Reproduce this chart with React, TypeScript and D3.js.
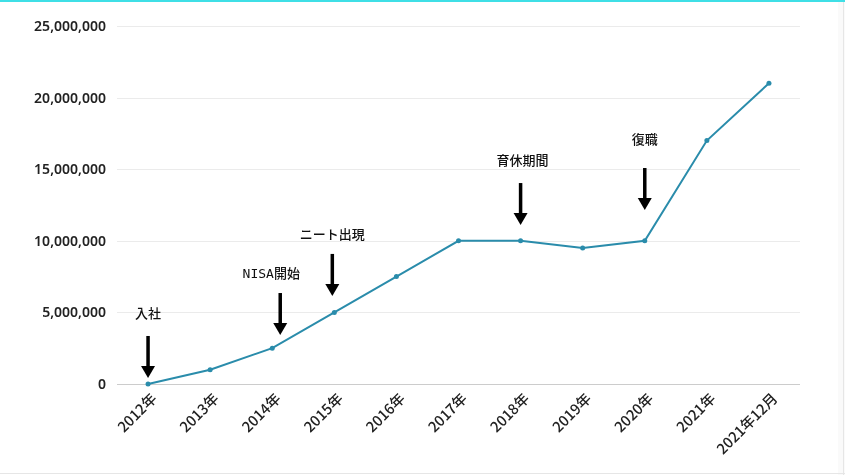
import { useEffect, useRef } from "react";
import * as d3 from "d3";

// カテゴリ・値
const categories = [
  "2012年",
  "2013年",
  "2014年",
  "2015年",
  "2016年",
  "2017年",
  "2018年",
  "2019年",
  "2020年",
  "2021年",
  "2021年12月",
];
const values = [
  0, 1000000, 2500000, 5000000, 7500000, 10000000, 10000000, 9500000,
  10000000, 17000000, 21000000,
];
const yTicks = [0, 5000000, 10000000, 15000000, 20000000, 25000000];

// 注釈 (矢印の先端の値)
const noteLabels = ["入社", "NISA開始", "ニート出現", "育休期間", "復職"];
const noteCategories = ["2012年", "2014年", "2015年", "2018年", "2020年"];
const noteTips = [420000, 3420000, 6150000, 11100000, 12150000];

export default function App() {
  const svgRef = useRef<SVGSVGElement>(null);

  useEffect(() => {
    if (!svgRef.current) return;
    const W = 845;
    const H = 475;
    const margin = { top: 26, right: 45, bottom: 91, left: 117 };
    const svg = d3.select(svgRef.current);
    svg.selectAll("*").remove();

    // 枠
    svg
      .append("rect")
      .attr("x", 838)
      .attr("y", 0)
      .attr("width", 7)
      .attr("height", H)
      .attr("fill", "#fafafa");
    svg
      .append("line")
      .attr("x1", 843.5)
      .attr("x2", 843.5)
      .attr("y1", 0)
      .attr("y2", H)
      .attr("stroke", "#e6e6e6");
    svg
      .append("line")
      .attr("x1", 0)
      .attr("x2", W)
      .attr("y1", 473.5)
      .attr("y2", 473.5)
      .attr("stroke", "#e6e6e6");
    svg
      .append("rect")
      .attr("x", 0)
      .attr("y", 0)
      .attr("width", W)
      .attr("height", 2)
      .attr("fill", "#3fdfe6");

    const x = d3
      .scaleBand()
      .domain(categories)
      .range([margin.left, W - margin.right]);
    const cx = (c: string) => (x(c) ?? 0) + x.bandwidth() / 2;
    const y = d3
      .scaleLinear()
      .domain([0, 25000000])
      .range([H - margin.bottom, margin.top]);

    const g = svg.append("g");

    // グリッド
    g.selectAll("line.grid")
      .data(yTicks)
      .enter()
      .append("line")
      .attr("class", "grid")
      .attr("x1", margin.left)
      .attr("x2", W - margin.right)
      .attr("y1", (d) => Math.round(y(d)) + 0.5)
      .attr("y2", (d) => Math.round(y(d)) + 0.5)
      .attr("stroke", (d) => (d === 0 ? "#cccccc" : "#ebebeb"))
      .attr("stroke-width", 1);

    // y軸ラベル
    g.selectAll("text.ytick")
      .data(yTicks)
      .enter()
      .append("text")
      .attr("class", "ytick")
      .attr("x", margin.left - 11)
      .attr("y", (d) => y(d))
      .attr("dy", "0.35em")
      .attr("text-anchor", "end")
      .attr("font-family", "'Noto Sans', 'Noto Sans CJK JP', sans-serif")
      .attr("font-size", 14)
      .attr("font-weight", 600)
      .attr("fill", "#222")
      .text((d) => d3.format(",")(d));

    // x軸ラベル
    g.selectAll("text.xtick")
      .data(categories)
      .enter()
      .append("text")
      .attr("class", "xtick")
      .attr(
        "transform",
        (d) => `translate(${cx(d) + 6},${H - margin.bottom + 12}) rotate(-45)`
      )
      .attr("text-anchor", "end")
      .attr("dy", "0.35em")
      .attr("font-family", "'Noto Sans CJK JP', sans-serif")
      .attr("font-size", 14.5)
      .attr("font-weight", 500)
      .attr("fill", "#222")
      .text((d) => d);

    // 線
    const line = d3
      .line<number>()
      .x((_, i) => cx(categories[i]))
      .y((d) => y(d));
    g.append("path")
      .datum(values)
      .attr("d", line)
      .attr("fill", "none")
      .attr("stroke", "#2a8cab")
      .attr("stroke-width", 2);
    g.selectAll("circle.pt")
      .data(values)
      .enter()
      .append("circle")
      .attr("class", "pt")
      .attr("cx", (_, i) => cx(categories[i]))
      .attr("cy", (d) => y(d))
      .attr("r", 2.5)
      .attr("fill", "#2a8cab");

    // 注釈
    const notes = noteLabels.map((label, i) => ({
      label,
      cat: noteCategories[i],
      tip: noteTips[i],
    }));
    const ng = g
      .selectAll("g.note")
      .data(notes)
      .enter()
      .append("g")
      .attr("class", "note")
      .attr("transform", (d) => {
        const dx = d.cat === "2014年" ? 8 : d.cat === "2015年" ? -2 : 0;
        return `translate(${cx(d.cat) + dx},${y(d.tip)})`;
      });
    ng.append("rect")
      .attr("x", -1.75)
      .attr("y", -42)
      .attr("width", 3.5)
      .attr("height", 32);
    ng.append("path")
      .attr("d", "M-7,-12 L7,-12 L0,0 Z")
      .attr("fill", "#000");
    ng.append("text")
      .attr("x", (d) => (d.cat === "2014年" ? -9 : d.cat === "2018年" ? 2 : 0))
      .attr("y", (d) =>
        d.cat === "2020年" ? -66 : d.cat === "2014年" || d.cat === "2015年" ? -57 : -60
      )
      .attr("text-anchor", "middle")
      .attr("font-family", "'DejaVu Sans Mono', 'Noto Sans CJK JP', monospace")
      .attr("font-size", 13)
      .attr("font-weight", 500)
      .attr("fill", "#111")
      .text((d) => d.label);
  }, []);

  return (
    <div style={{ position: "fixed", left: 0, top: 0 }}>
      <svg ref={svgRef} width={845} height={475} style={{ display: "block" }} />
    </div>
  );
}
